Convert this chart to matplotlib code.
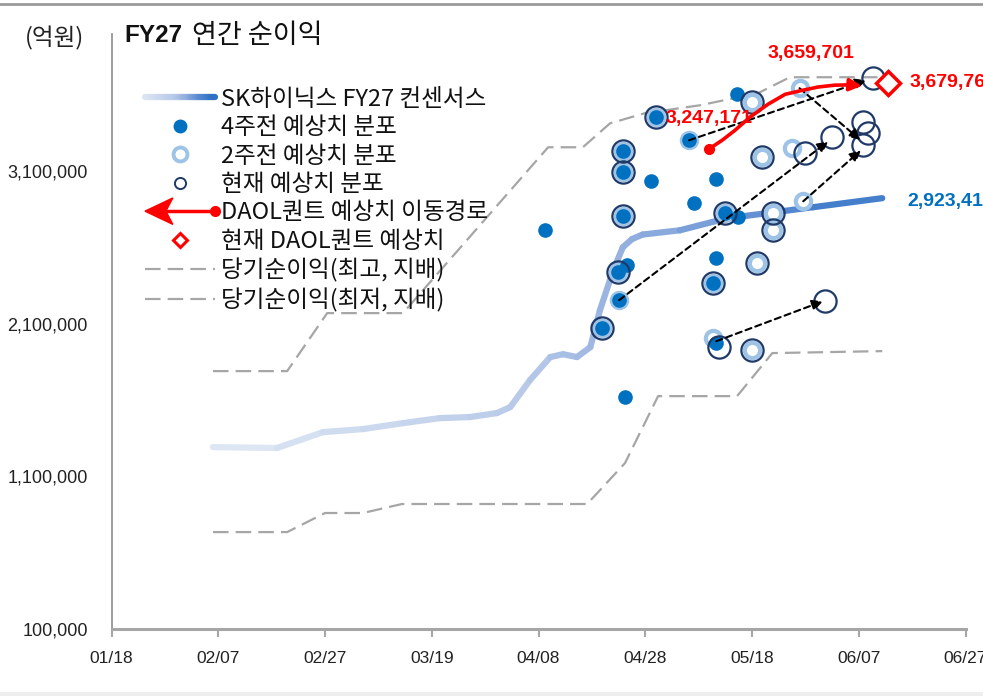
import numpy as np
import matplotlib
matplotlib.use("Agg")
import matplotlib.pyplot as plt
from matplotlib.collections import LineCollection
from matplotlib.colors import LinearSegmentedColormap
from matplotlib.legend_handler import HandlerBase
from matplotlib.lines import Line2D
from matplotlib.patches import Polygon, Rectangle

plt.rcParams['font.family'] = ['Noto Sans CJK KR', 'DejaVu Sans']
NUM_FONT = ['Liberation Sans', 'DejaVu Sans']

# x = days since 01/18
X_TICKS = [0, 20, 40, 60, 80, 100, 120, 140, 160]
X_LABELS = ["01/18", "02/07", "02/27", "03/19", "04/08", "04/28", "05/18", "06/07", "06/27"]
Y_TICKS = [100000, 1100000, 2100000, 3100000]

# SK hynix FY27 consensus
cons_day = [19, 31, 39.6, 47.1, 54.6, 61.5, 67.2, 72.2, 74.7, 78.4, 82.2, 84.6, 87.2,
            89.7, 91.5, 94.0, 95.8, 97.5, 99.5, 106.5, 115.3, 122.8, 131.4, 144.4]
cons_val = [1292000, 1286000, 1390000, 1410000, 1449000, 1482000, 1489000, 1515000,
            1554000, 1731000, 1882000, 1901000, 1882000, 1947000, 2189000, 2451000,
            2602000, 2655000, 2685000, 2713000, 2792000, 2825000, 2864000, 2923412]

# highest / lowest net profit (controlling)
high_day = [19, 32.9, 40.4, 54.6, 81.8, 88.3, 93.4, 99.9, 110.2, 121.1, 127.1, 144.4]
high_val = [1790000, 1790000, 2170000, 2170000, 3257000, 3257000, 3414000, 3480000,
            3532000, 3611000, 3716000, 3716000]
low_day = [19, 32.9, 40.0, 47.1, 54.4, 89.1, 96.2, 102.4, 117.2, 123.8, 144.4]
low_val = [735000, 735000, 860000, 860000, 919000, 919000, 1187000, 1626000, 1626000,
           1908000, 1921000]

# estimates 4 weeks ago
w4_day = [81.2, 102.0, 108.2, 95.8, 95.8, 101.1, 113.3, 109.1, 95.8, 115.0, 117.4, 117.2,
          96.6, 94.9, 95.1, 91.9, 113.3, 112.7, 113.3, 96.2]
w4_val = [2713000, 3454000, 3303000, 3231000, 3093000, 3034000, 3048000, 2890000, 2805000,
          2825000, 2799000, 3604000, 2484000, 2438000, 2255000, 2072000, 2530000, 2366000,
          1973000, 1620000]

# estimates 2 weeks ago
w2_day = [102.0, 108.2, 95.8, 95.8, 95.8, 115.0, 120.0, 128.9, 121.9, 127.5, 124.0, 124.0,
          129.6, 120.9, 94.9, 95.1, 91.9, 112.7, 112.7, 120.0]
w2_val = [3454000, 3303000, 3231000, 3093000, 2805000, 2825000, 3552000, 3644000, 3192000,
          3251000, 2825000, 2713000, 2903000, 2497000, 2438000, 2255000, 2072000, 2366000,
          2006000, 1927000]

# current estimates
now_day = [102.0, 95.8, 95.8, 95.8, 115.0, 120.0, 121.9, 130.0, 135.0, 140.8, 141.8, 140.8,
           142.7, 124.0, 124.0, 120.9, 94.9, 91.9, 112.7, 113.9, 120.0, 133.7]
now_val = [3454000, 3231000, 3093000, 2805000, 2825000, 3552000, 3192000, 3218000, 3323000,
           3421000, 3349000, 3270000, 3709000, 2825000, 2713000, 2497000, 2438000, 2072000,
           2366000, 1947000, 1927000, 2248000]

# revision paths (from, to)
move_from_day = [108.2, 128.9, 95.1, 129.6, 113.3]
move_from_val = [3303000, 3644000, 2255000, 2903000, 1986000]
move_to_day = [141.4, 140.3, 134.3, 140.4, 133.3]
move_to_val = [3696000, 3305000, 3296000, 3237000, 2248000]

# DAOL quant estimate path
daol_day = [112.0, 114.4, 116.8, 119.6, 123.0, 126.2, 129.4, 132.4, 135.5, 138.4, 140.6]
daol_val = [3247171, 3303000, 3368000, 3454000, 3539000, 3604000, 3630000, 3652000,
            3664000, 3666000, 3659701]
daol_now_day = 145.5
daol_now_val = 3679760

C_W4 = '#0070c0'
C_W2 = '#9dc3e6'
C_NOW = '#1f3a68'
C_GRAY = '#a6a6a6'
cons_cmap = LinearSegmentedColormap.from_list(
    'cons', [(0, '#dde6f3'), (0.45, '#b8cae9'), (0.6, '#97b2e0'), (0.8, '#5b8bd2'), (1.0, '#2e70c4')])


class HandlerGradient(HandlerBase):
    def create_artists(self, legend, orig_handle, xdescent, ydescent, width, height, fontsize, trans):
        xs = np.linspace(-xdescent, width - xdescent, 40)
        ys = np.full_like(xs, height / 2 - ydescent)
        pts = np.column_stack([xs, ys]).reshape(-1, 1, 2)
        segs = np.concatenate([pts[:-1], pts[1:]], axis=1)
        lc = LineCollection(segs, cmap=cons_cmap, linewidth=4.5, transform=trans, capstyle='round')
        lc.set_array(np.linspace(0, 1, len(segs)))
        return [lc]


class HandlerDaol(HandlerBase):
    def create_artists(self, legend, orig_handle, xdescent, ydescent, width, height, fontsize, trans):
        y = height / 2 - ydescent
        x0 = -xdescent
        x1 = width - xdescent
        line = Line2D([x0 + 0.2 * width, x1], [y, y], color='red', lw=2.5, transform=trans)
        head = Polygon([[x0, y], [x0 + 0.4 * width, y + 0.8 * height],
                        [x0 + 0.3 * width, y], [x0 + 0.4 * width, y - 0.8 * height]],
                       closed=True, color='red', transform=trans)
        dot = Line2D([x1], [y], marker='o', color='red', markersize=7, transform=trans)
        return [line, head, dot]


fig = plt.figure(figsize=(9.83, 6.96), dpi=100)
ax = fig.add_axes([0.1135, 0.0963, 0.8687, 0.855])

# dashed high / low
h_high, = ax.plot(high_day, high_val, ls=(0, (7, 3.2)), color=C_GRAY, lw=1.6, zorder=2)
h_low, = ax.plot(low_day, low_val, ls=(0, (7, 3.2)), color=C_GRAY, lw=1.6, zorder=2)

# consensus gradient line
pts = np.column_stack([cons_day, cons_val]).reshape(-1, 1, 2)
segs = np.concatenate([pts[:-1], pts[1:]], axis=1)
lc = LineCollection(segs, cmap=cons_cmap, linewidth=4.5, capstyle='round', joinstyle='round', zorder=3)
lc.set_array((np.array(cons_day[:-1]) - cons_day[0]) / (cons_day[-1] - cons_day[0]))
lc.set_clim(0, 1)
ax.add_collection(lc)

h_w2, = ax.plot(w2_day, w2_val, 'o', ms=11, mfc='white', mec=C_W2, mew=3, ls='none', zorder=4)
h_w4, = ax.plot(w4_day, w4_val, 'o', ms=9.5, mfc=C_W4, mec=C_W4, ls='none', zorder=5)
h_now, = ax.plot(now_day, now_val, 'o', ms=16, mfc='none', mec=C_NOW, mew=1.6, ls='none', zorder=6)

for fd, fv, td, tv in zip(move_from_day, move_from_val, move_to_day, move_to_val):
    ax.annotate('', xy=(td, tv), xytext=(fd, fv),
                arrowprops=dict(arrowstyle='-|>', color='black', lw=1.5, ls=(0, (3, 2)),
                                mutation_scale=16, shrinkA=0, shrinkB=0), zorder=7)

ax.plot(daol_day[:-1], daol_val[:-1], color='red', lw=2.6, solid_capstyle='round', zorder=8)
ax.annotate('', xy=(daol_day[-1], daol_val[-1]), xytext=(daol_day[-2], daol_val[-2]),
            arrowprops=dict(arrowstyle='-|>', color='red', lw=2.6, mutation_scale=18,
                            shrinkA=0, shrinkB=0), zorder=8)
ax.plot(daol_day[0], daol_val[0], 'o', color='red', ms=7, zorder=8)
h_dnow, = ax.plot(daol_now_day, daol_now_val, 'D', ms=12.5, mfc='white', mec='red', mew=2.5, zorder=9)

ax.text(daol_day[0], daol_val[0] + 200000, f"{daol_val[0]:,}", color='red', fontsize=14,
        fontweight='bold', family=NUM_FONT, ha='center', va='center', zorder=10)
ax.text(131, 3870000, f"{daol_val[-1]:,}", color='red', fontsize=14,
        fontweight='bold', family=NUM_FONT, ha='center', va='center', zorder=10)
ax.text(149.6, daol_now_val, f"{daol_now_val:,}", color='red', fontsize=14,
        fontweight='bold', family=NUM_FONT, ha='left', va='center', zorder=10, clip_on=False)
ax.text(149.1, cons_val[-1] - 20000, f"{cons_val[-1]:,}", color='#0070c0', fontsize=14,
        fontweight='bold', family=NUM_FONT, ha='left', va='center', zorder=10, clip_on=False)

ax.set_xlim(0, 160)
ax.set_ylim(100000, 4000000)
ax.set_xticks(X_TICKS)
ax.set_xticklabels(X_LABELS, family=NUM_FONT, fontsize=12.5)
ax.set_yticks(Y_TICKS)
ax.set_yticklabels([f"{v:,}" for v in Y_TICKS], family=NUM_FONT, fontsize=13)
ax.tick_params(axis='x', length=6, width=1.5, color='#a6a6a6', pad=10, labelcolor='#222222')
ax.tick_params(axis='y', length=0, pad=17, labelcolor='#222222')
for s in ['top', 'right']:
    ax.spines[s].set_visible(False)
ax.spines['left'].set_color('#8c8c8c')
ax.spines['left'].set_linewidth(1.2)
ax.spines['bottom'].set_color('#a6a6a6')
ax.spines['bottom'].set_linewidth(2.2)

h_cons = Line2D([], [], color='#5b8bd2')
h_daol = Line2D([], [], color='red')
h_w2l = Line2D([], [], marker='o', ms=10, mfc='white', mec=C_W2, mew=2.8, ls='none')
h_w4l = Line2D([], [], marker='o', ms=9, mfc=C_W4, mec=C_W4, ls='none')
h_nowl = Line2D([], [], marker='o', ms=8, mfc='white', mec=C_NOW, mew=1.4, ls='none')
h_dnowl = Line2D([], [], marker='D', ms=7, mfc='white', mec='red', mew=2.2, ls='none')
labels = ["SK하이닉스 FY27 컨센서스", "4주전 예상치 분포", "2주전 예상치 분포", "현재 예상치 분포",
          "DAOL퀀트 예상치 이동경로", "현재 DAOL퀀트 예상치", "당기순이익(최고, 지배)", "당기순이익(최저, 지배)"]
leg = ax.legend([h_cons, h_w4l, h_w2l, h_nowl, h_daol, h_dnowl, h_high, h_low], labels,
                handler_map={h_cons: HandlerGradient(), h_daol: HandlerDaol()},
                loc='upper left', bbox_to_anchor=(0.1475, 0.874), bbox_transform=fig.transFigure,
                frameon=False, fontsize=17, handlelength=2.95, handletextpad=0.28,
                labelspacing=0.23, borderpad=0, borderaxespad=0)
for t in leg.get_texts():
    t.set_color('#111111')

fig.text(0.025, 0.945, "(억원)", fontsize=17, va='center', ha='left', color='#222222')
fig.text(0.127, 0.949, "FY27", fontsize=17.5, fontweight='bold', family=['Liberation Sans', 'DejaVu Sans'],
         va='center', ha='left', color='#111111')
fig.text(0.195, 0.949, "연간 순이익", fontsize=19.5, va='center', ha='left', color='#111111')

fig.add_artist(Line2D([0, 1], [1 - 4 / 696, 1 - 4 / 696], transform=fig.transFigure, color='#9a9a9a', lw=2))
fig.add_artist(Rectangle((0, 0), 1, 4 / 696, transform=fig.transFigure, color='#eeeeee', lw=0))

fig.savefig("out.png", dpi=100)
